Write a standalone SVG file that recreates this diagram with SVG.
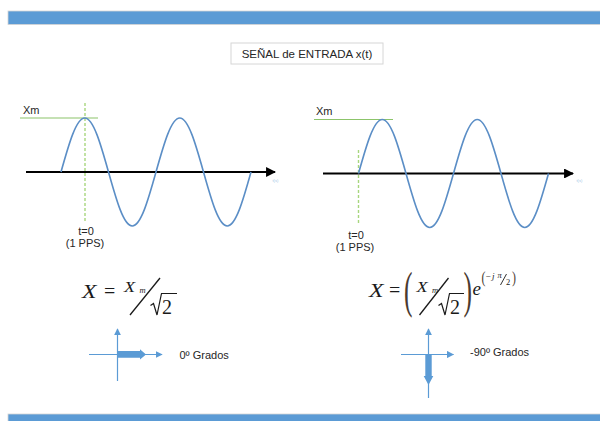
<svg xmlns="http://www.w3.org/2000/svg" width="600" height="421" viewBox="0 0 600 421">
<defs>
<style>
.sans{font-family:"Liberation Sans",Arial,sans-serif;fill:#262626}
.math{font-family:"Liberation Serif","Times New Roman",serif;fill:#1a1a1a}
.it{font-style:italic}
.wave{fill:none;stroke:#5B8EC6;stroke-width:1.6}
.axis{stroke:#000;stroke-width:2.2}
.xm{stroke:#8CC46A;stroke-width:1.2}
.t0{stroke:#A8D67E;stroke-width:1.4;stroke-dasharray:3 2}
.ph{stroke:#5B9BD5;stroke-width:1.2}
.phf{fill:#5B9BD5}
.par{fill:#4a3a30}
.tl{font-family:"Liberation Sans",Arial,sans-serif;font-size:4px;fill:#9DC3E6}
</style>
<marker id="ah" viewBox="0 0 10 10" refX="9" refY="5" markerWidth="4.5" markerHeight="4.5" orient="auto" markerUnits="strokeWidth"><path d="M0,0 L10,5 L0,10 z" fill="#000"/></marker>
<marker id="ahb" viewBox="0 0 10 10" refX="9" refY="5" markerWidth="6" markerHeight="6" orient="auto" markerUnits="strokeWidth"><path d="M0,0 L10,5 L0,10 z" fill="#5B9BD5"/></marker>
</defs>
<rect x="0" y="0" width="600" height="421" fill="#fff"/>
<g id="top-bar"><rect x="8" y="11" width="600" height="13.5" fill="#5B9BD5" stroke="#D4D4D4" stroke-width="0.8"/></g>
<g id="bottom-bar"><rect x="8" y="414" width="600" height="10" fill="#5B9BD5" stroke="#D4D4D4" stroke-width="0.8"/></g>
<g id="title">
<rect x="231" y="43" width="152" height="21" fill="#fff" stroke="#D6D6D6" stroke-width="1"/>
<text class="sans" x="307" y="58" font-size="11.5" text-anchor="middle">SEÑAL de ENTRADA x(t)</text>
</g>
<g id="connectors">
<line class="axis" x1="26" y1="172" x2="275" y2="172" marker-end="url(#ah)"/>
<line class="axis" x1="323" y1="173.5" x2="573" y2="173.5" marker-end="url(#ah)"/>
<line class="ph" x1="117.5" y1="381" x2="117.5" y2="329" marker-end="url(#ahb)"/>
<line class="ph" x1="89" y1="354.5" x2="162" y2="354.5" marker-end="url(#ahb)"/>
<line class="ph" x1="428.5" y1="398" x2="428.5" y2="329" marker-end="url(#ahb)"/>
<line class="ph" x1="401" y1="354.5" x2="453.5" y2="354.5" marker-end="url(#ahb)"/>
</g>
<g id="wave-left">
<line class="xm" x1="20" y1="118" x2="98" y2="118"/>
<line class="t0" x1="85" y1="103" x2="85" y2="221"/>
<path class="wave" d="M61,172 c7.75,-27.66 15.150,-54 23.75,-54 c8.6,0 16,26.34 23.75,54 c7.75,27.66 15.15,54 23.75,54 c8.6,0 16,-26.34 23.75,-54 c7.75,-27.66 15.15,-54 23.75,-54 c8.6,0 16,26.34 23.75,54 c7.75,27.66 15.15,54 23.75,54 c8.6,0 16,-26.34 23.75,-54"/>
<text class="sans" x="23" y="114" font-size="11">Xm</text>
<text class="sans" x="86" y="235" font-size="11" text-anchor="middle">t=0</text>
<text class="sans" x="85" y="246.5" font-size="11" text-anchor="middle">(1 PPS)</text>
<text class="tl" x="272.5" y="182">t(s)</text>
</g>
<g id="wave-right">
<line class="xm" x1="314" y1="119.5" x2="393" y2="119.5"/>
<line class="t0" x1="358.5" y1="150" x2="358.5" y2="225"/>
<path class="wave" d="M358.5,173.5 c7.75,-27.66 15.15,-54 23.75,-54 c8.6,0 16,26.34 23.75,54 c7.75,27.66 15.15,54 23.75,54 c8.6,0 16,-26.34 23.75,-54 c7.75,-27.66 15.15,-54 23.75,-54 c8.6,0 16,26.34 23.75,54 c7.75,27.66 15.15,54 23.75,54 c8.6,0 16,-26.34 23.75,-54"/>
<text class="sans" x="316" y="115" font-size="11">Xm</text>
<text class="sans" x="356" y="239" font-size="11" text-anchor="middle">t=0</text>
<text class="sans" x="355" y="250.5" font-size="11" text-anchor="middle">(1 PPS)</text>
<text class="tl" x="576.5" y="182">t(s)</text>
</g>
<g id="formula-left">
<text class="math it" font-size="19" transform="translate(82,298) scale(1.25,1)">X</text>
<text class="math" x="104" y="298" font-size="20">=</text>
<text class="math it" font-size="14" transform="translate(124,292) scale(1.3,1)">X</text>
<text class="math it" x="139.5" y="293" font-size="8.5">m</text>
<line x1="130" y1="315" x2="160" y2="278" stroke="#1a1a1a" stroke-width="1.3"/>
<path d="M150.5,305.5 L153.5,303.5 L157,315 L161.5,293.5 L177,293.5" fill="none" stroke="#1a1a1a" stroke-width="1.2"/>
<text class="math" x="162" y="313.5" font-size="20">2</text>
</g>
<g id="formula-right">
<text class="math it" font-size="19" transform="translate(369,297) scale(1.25,1)">X</text>
<text class="math" x="389" y="297" font-size="20">=</text>
<text class="math par" font-size="51" transform="translate(404,307) scale(0.5,1)">(</text>
<text class="math it" font-size="14" transform="translate(416.5,292) scale(1.3,1)">X</text>
<text class="math it" x="432" y="293" font-size="8.5">m</text>
<line x1="419.5" y1="315" x2="448.5" y2="278" stroke="#1a1a1a" stroke-width="1.3"/>
<path d="M438.5,305.5 L441.5,303.5 L445,315 L449.5,293.5 L464,293.5" fill="none" stroke="#1a1a1a" stroke-width="1.2"/>
<text class="math" x="450" y="313.5" font-size="20">2</text>
<text class="math par" font-size="51" transform="translate(463.5,307) scale(0.5,1)">)</text>
<text class="math it" x="472.5" y="295" font-size="19">e</text>
<text class="math par" font-size="17" transform="translate(481.5,283) scale(0.7,1)">(</text>
<text class="math" x="485.5" y="279" font-size="9">−</text>
<text class="math it" x="492" y="279" font-size="9">j</text>
<text class="math it" x="497.5" y="278" font-size="8.5">π</text>
<line x1="500.5" y1="285" x2="506.5" y2="274" stroke="#1a1a1a" stroke-width="0.9"/>
<text class="math" x="506" y="284.5" font-size="8.5">2</text>
<text class="math par" font-size="17" transform="translate(512,283) scale(0.7,1)">)</text>
</g>
<g id="phasor-left">
<path class="phf" d="M117.5,351 L140,351 L140,349.3 L146,354.5 L140,359.5 L140,357.8 L117.5,357.8 z"/>
<text class="sans" x="179.5" y="358.5" font-size="11">0º Grados</text>
</g>
<g id="phasor-right">
<path class="phf" d="M425.3,354.5 L431.7,354.5 L431.7,376 L433.3,376 L428.5,385 L423.7,376 L425.3,376 z"/>
<text class="sans" x="470" y="356" font-size="11">-90º Grados</text>
</g>
</svg>
